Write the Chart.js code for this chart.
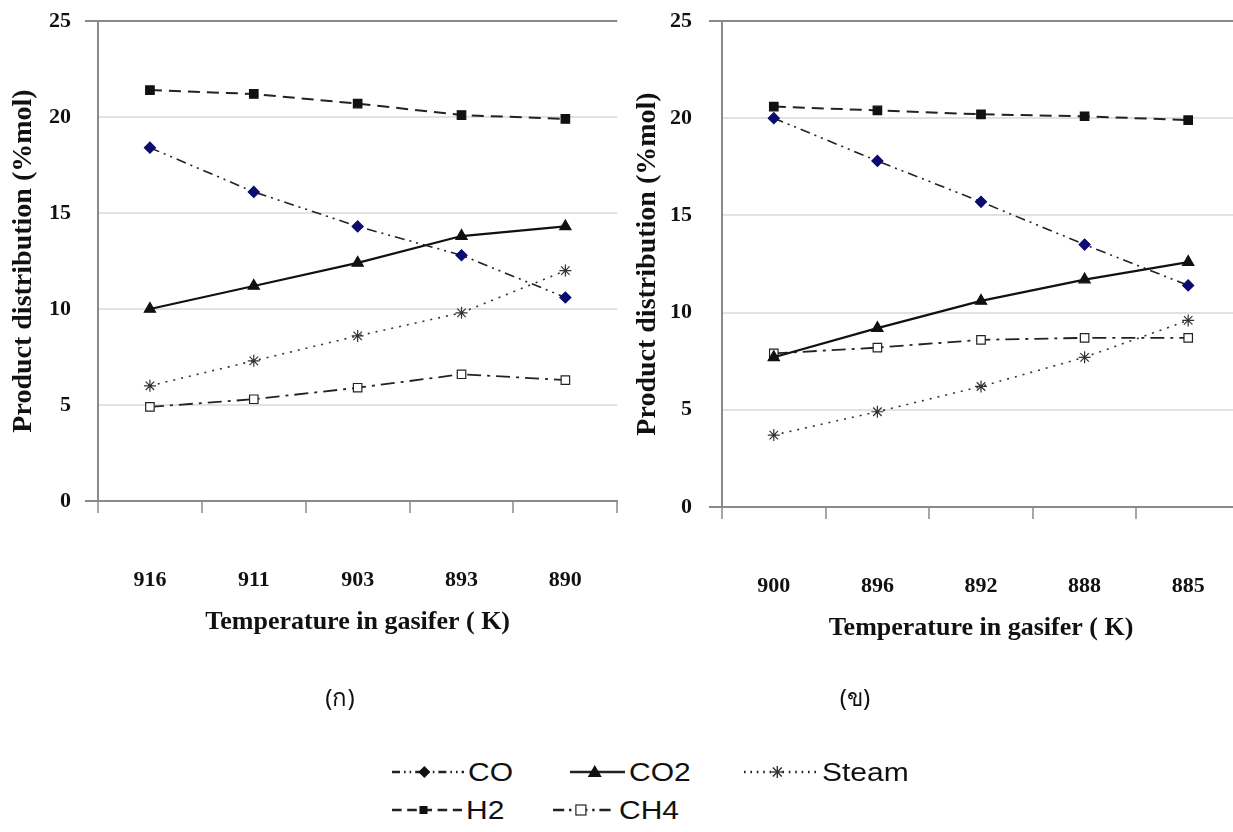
<!DOCTYPE html>
<html>
<head>
<meta charset="utf-8">
<script src="https://cdn.jsdelivr.net/npm/chart.js@4/dist/chart.umd.min.js"></script>
<style>
  html, body { margin: 0; padding: 0; background: #fff; }
  body { width: 1233px; height: 832px; position: relative; overflow: hidden; }
  .box { position: absolute; top: 0; width: 625px; height: 680px; }
  #boxA { left: 0; }
  #boxB { left: 625px; }
  .cap { position: absolute; top: 678px; font: 24px "Noto Sans", "DejaVu Sans", sans-serif; color: #111; transform: translateX(-50%); }
  .leg { position: absolute; font: 25px "Liberation Sans", Arial, sans-serif; color: #111; line-height: 30px; }
  .leg svg { position: absolute; }
  .leg span { display: inline-block; transform: scaleX(1.2); transform-origin: left center; }
</style>
</head>
<body>
<div class="box" id="boxA"><canvas id="chartA" width="625" height="680"></canvas></div>
<div class="box" id="boxB"><canvas id="chartB" width="625" height="680"></canvas></div>
<div class="cap" style="left:340px">(ก)</div>
<div class="cap" style="left:855px">(ข)</div>

<div id="legend"></div>

<script>
// left panel (ก)
const categoriesA = ['916', '911', '903', '893', '890'];
const coA = [18.4, 16.1, 14.3, 12.8, 10.6];
const co2A = [10.0, 11.2, 12.4, 13.8, 14.3];
const steamA = [6.0, 7.3, 8.6, 9.8, 12.0];
const h2A = [21.4, 21.2, 20.7, 20.1, 19.9];
const ch4A = [4.9, 5.3, 5.9, 6.6, 6.3];

// right panel (ข)
const categoriesB = ['900', '896', '892', '888', '885'];
const coB = [20.0, 17.8, 15.7, 13.5, 11.4];
const co2B = [7.7, 9.2, 10.6, 11.7, 12.6];
const steamB = [3.7, 4.9, 6.2, 7.7, 9.6];
const h2B = [20.6, 20.4, 20.2, 20.1, 19.9];
const ch4B = [7.9, 8.2, 8.6, 8.7, 8.7];

const yMin = 0, yMax = 25, yStep = 5;
const seriesNames = ['CO', 'CO2', 'Steam', 'H2', 'CH4'];

const axisGray = '#8a8a8a';
const gridGray = '#e2e2e2';
const serif = '"Liberation Serif", "Times New Roman", serif';

const styles = {
    CO:    { borderColor: '#222', borderWidth: 1.6, borderDash: [10, 5, 2, 5, 2, 5], pointStyle: 'rectRot', pointRadius: 5.5, pointBackgroundColor: '#0b0b70', pointBorderColor: '#0b0b70' },
    CO2:   { borderColor: '#111', borderWidth: 2.2, borderDash: [], pointStyle: 'triangle', pointRadius: 6.5, pointBackgroundColor: '#111', pointBorderColor: '#111' },
    Steam: { borderColor: '#333', borderWidth: 1.6, borderDash: [2, 6], pointStyle: 'star', pointRadius: 6, pointBackgroundColor: '#333', pointBorderColor: '#333' },
    H2:    { borderColor: '#222', borderWidth: 2, borderDash: [12, 7], pointStyle: 'rect', pointRadius: 6, pointBackgroundColor: '#111', pointBorderColor: '#111' },
    CH4:   { borderColor: '#222', borderWidth: 1.8, borderDash: [14, 6, 3, 6], pointStyle: 'rect', pointRadius: 6, pointBackgroundColor: '#fff', pointBorderColor: '#222' }
};

function makeChart(id, labels, values, geo) {
    const datasets = seriesNames.map(function (name, i) {
        return Object.assign({
            label: name,
            data: values[i],
            fill: false,
            tension: 0,
            pointBorderWidth: 1.2,
            pointHoverRadius: 6
        }, styles[name]);
    });
    return new Chart(document.getElementById(id), {
        type: 'line',
        data: { labels: labels, datasets: datasets },
        options: {
            responsive: false,
            animation: false,
            layout: { padding: { left: 0, right: geo.padRight, top: 21, bottom: 0 } },
            plugins: { legend: { display: false }, tooltip: { enabled: false } },
            scales: {
                x: {
                    offset: true,
                    grid: {
                        offset: true,
                        drawOnChartArea: geo.rightEdge,
                        color: function (ctx) { return ctx.index === labels.length ? axisGray : 'transparent'; },
                        lineWidth: 2,
                        tickColor: axisGray,
                        tickWidth: 1.5,
                        tickLength: 12
                    },
                    border: { display: true, color: axisGray, width: 2 },
                    ticks: {
                        color: '#111',
                        padding: 54,
                        font: { family: serif, size: 22, weight: 'bold' }
                    },
                    title: {
                        display: true,
                        text: 'Temperature in gasifer ( K)',
                        color: '#111',
                        font: { family: serif, size: 26, weight: 'bold' },
                        padding: { top: 0, bottom: geo.titlePad }
                    },
                    afterFit: function (s) {
                        s.height = geo.xHeight;
                        s.paddingLeft = 0;
                        s.paddingRight = 0;
                    }
                },
                y: {
                    min: yMin,
                    max: yMax,
                    grid: {
                        color: function (ctx) {
                            const v = ctx.tick.value;
                            return (v === yMin || v === yMax) ? axisGray : gridGray;
                        },
                        lineWidth: 2,
                        tickColor: function (ctx) {
                            const v = ctx.tick.value;
                            return (v === yMin || v === yMax) ? axisGray : 'transparent';
                        },
                        tickLength: 13
                    },
                    border: { display: true, color: axisGray, width: 2 },
                    ticks: {
                        stepSize: yStep,
                        color: '#111',
                        padding: geo.yTickPad,
                        font: { family: serif, size: 22, weight: 'bold' }
                    },
                    title: {
                        display: true,
                        text: 'Product distribution (%mol)',
                        color: '#111',
                        font: { family: serif, size: 28, weight: 'bold' },
                        padding: { top: geo.yTitlePad, bottom: 0 }
                    },
                    afterFit: function (s) {
                        s.width = geo.yWidth;
                        s.paddingTop = 0;
                        s.paddingBottom = 0;
                    }
                }
            }
        }
    });
}

makeChart('chartA', categoriesA, [coA, co2A, steamA, h2A, ch4A],
    { padRight: 3, xHeight: 179, titlePad: 42, yWidth: 98, yTickPad: 14, yTitlePad: 7, rightEdge: true });
makeChart('chartB', categoriesB, [coB, co2B, steamB, h2B, ch4B],
    { padRight: 10, xHeight: 173, titlePad: 36, yWidth: 97, yTickPad: 17, yTitlePad: 6, rightEdge: false });

// legend below the two panels
const legendItems = [
    { name: 'CO',    x: 392, y: 757, w: 72 },
    { name: 'CO2',   x: 570, y: 757, w: 55 },
    { name: 'Steam', x: 744, y: 757, w: 74 },
    { name: 'H2',    x: 392, y: 795, w: 70 },
    { name: 'CH4',   x: 553, y: 795, w: 62 }
];

function swatch(name, w) {
    const st = styles[name];
    const dash = st.borderDash.length ? st.borderDash.map(function (d) { return d * 0.8; }).join(',') : 'none';
    const cx = w * 0.45, cy = 15;
    let mark = '';
    if (st.pointStyle === 'rectRot') {
        mark = '<polygon points="' + cx + ',' + (cy - 6) + ' ' + (cx + 6) + ',' + cy + ' ' + cx + ',' + (cy + 6) + ' ' + (cx - 6) + ',' + cy + '" fill="#111"/>';
    } else if (st.pointStyle === 'triangle') {
        mark = '<polygon points="' + cx + ',' + (cy - 7) + ' ' + (cx + 7) + ',' + (cy + 5) + ' ' + (cx - 7) + ',' + (cy + 5) + '" fill="#111"/>';
    } else if (st.pointStyle === 'star') {
        mark = '<g stroke="#333" stroke-width="1.4"><line x1="' + (cx - 6) + '" y1="' + cy + '" x2="' + (cx + 6) + '" y2="' + cy + '"/>' +
            '<line x1="' + cx + '" y1="' + (cy - 6) + '" x2="' + cx + '" y2="' + (cy + 6) + '"/>' +
            '<line x1="' + (cx - 4.5) + '" y1="' + (cy - 4.5) + '" x2="' + (cx + 4.5) + '" y2="' + (cy + 4.5) + '"/>' +
            '<line x1="' + (cx - 4.5) + '" y1="' + (cy + 4.5) + '" x2="' + (cx + 4.5) + '" y2="' + (cy - 4.5) + '"/></g>';
    } else if (st.pointBackgroundColor === '#fff') {
        mark = '<rect x="' + (cx - 5) + '" y="' + (cy - 5) + '" width="10" height="10" fill="#fff" stroke="#222" stroke-width="1.2"/>';
    } else {
        mark = '<rect x="' + (cx - 4) + '" y="' + (cy - 4) + '" width="8" height="8" fill="#111"/>';
    }
    return '<svg width="' + w + '" height="30" style="left:0;top:0">' +
        '<line x1="0" y1="' + cy + '" x2="' + w + '" y2="' + cy + '" stroke="#222" stroke-width="2.4" stroke-dasharray="' + dash + '"/>' +
        mark + '</svg>';
}

const legendEl = document.getElementById('legend');
legendItems.forEach(function (it) {
    const d = document.createElement('div');
    d.className = 'leg';
    d.style.left = it.x + 'px';
    d.style.top = it.y + 'px';
    d.innerHTML = swatch(it.name, it.w) + '<span style="margin-left:' + (it.w + 4) + 'px">' + it.name + '</span>';
    legendEl.appendChild(d);
});
</script>
</body>
</html>
